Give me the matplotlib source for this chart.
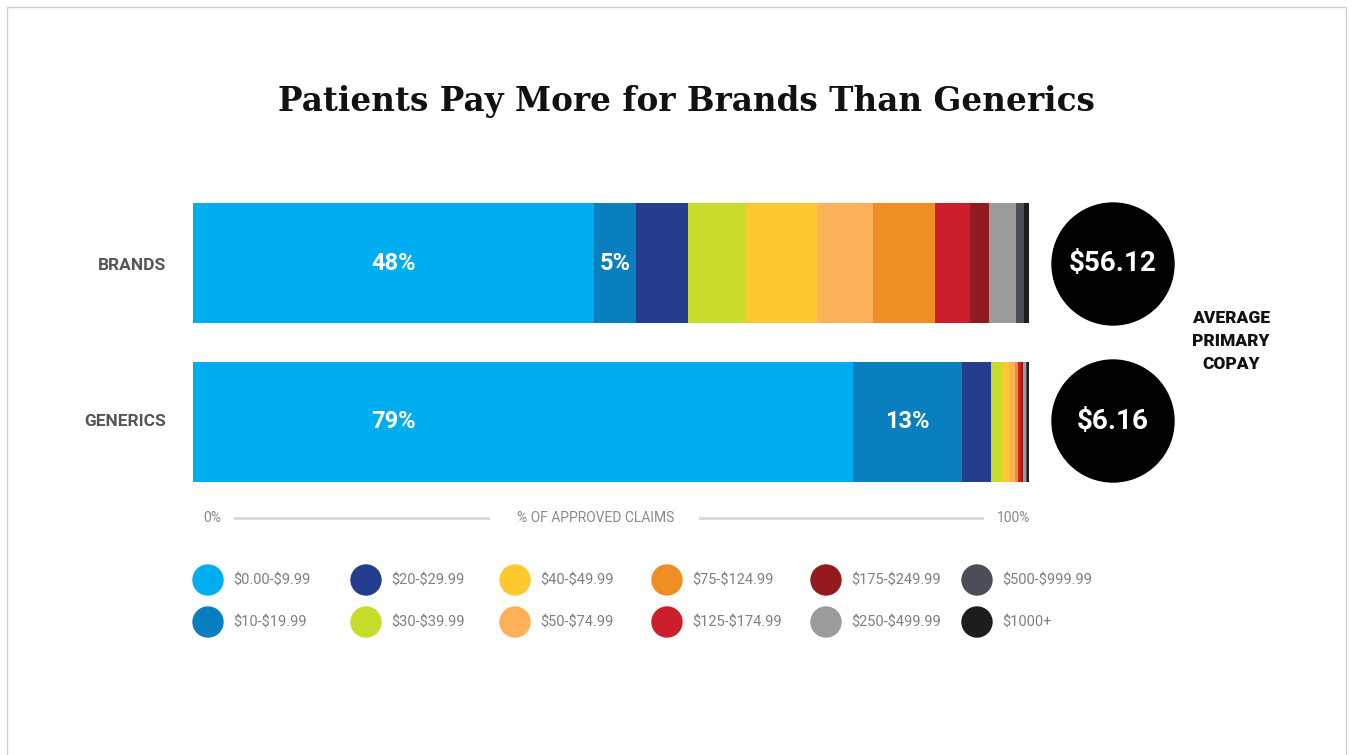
import matplotlib.pyplot as plt
from matplotlib.patches import Circle, Rectangle

plt.rcParams["text.parse_math"] = False

# copay bands, in stacking order
bands = ["$0.00-$9.99", "$10-$19.99", "$20-$29.99", "$30-$39.99",
         "$40-$49.99", "$50-$74.99", "$75-$124.99", "$125-$174.99",
         "$175-$249.99", "$250-$499.99", "$500-$999.99", "$1000+"]
band_colors = ["#00aeef", "#0a7fc0", "#253d8f", "#c8dc2c",
               "#fdc92f", "#fbb05a", "#ee8e24", "#cc1f2b",
               "#931a1d", "#9b9b9b", "#4a4f57", "#1d1d1f"]

groups = ["BRANDS", "GENERICS"]
# share of approved claims per band (%)
brands = [48, 5, 6.2, 6.9, 8.7, 6.5, 7.5, 4.2, 2.2, 3.2, 1.0, 0.6]
generics = [79, 13, 3.4, 1.4, 0.8, 0.7, 0.4, 0.3, 0.3, 0.3, 0.2, 0.2]
avg_copay = ["$56.12", "$6.16"]
labelled = 2  # only the first two segments get a % label

W, H = 1353, 755
fig = plt.figure(figsize=(W / 100, H / 100), dpi=100)
fig.patch.set_facecolor("white")

# --- bars ---
ax = fig.add_axes([193 / W, 1 - 482 / H, (1029 - 193) / W, (482 - 203) / H])
ax.set_xlim(0, 100)
ax.set_ylim(-0.38, 1.38)
ax.axis("off")

ypos = [1, 0]
for y, vals in zip(ypos, [brands, generics]):
    left = 0
    for i, v in enumerate(vals):
        ax.barh(y, v, left=left, height=0.76, color=band_colors[i], linewidth=0)
        if i < labelled:
            cx = brands[0] / 2 if i == 0 else left + v / 2
            ax.text(cx, y, f"{v:g}%", color="white", ha="center", va="center",
                    fontsize=17, fontweight="bold", family="Roboto")
        left += v

# --- overlay in pixel coordinates for the rest ---
ov = fig.add_axes([0, 0, 1, 1], zorder=-1)
ov.set_xlim(0, W)
ov.set_ylim(H, 0)
ov.axis("off")
ov2 = fig.add_axes([0, 0, 1, 1])
ov2.set_xlim(0, W)
ov2.set_ylim(H, 0)
ov2.axis("off")

ov.add_patch(Rectangle((7, 7), W - 14, H + 20, fill=False, ec="#d0d0d0", lw=1))

ov2.text(686, 101, "Patients Pay More for Brands Than Generics", ha="center",
         va="center", fontsize=23.5, fontweight="bold", family="DejaVu Serif",
         color="#111111")

for yy, g in zip([265, 421], groups):
    ov2.text(166, yy, g, ha="right", va="center", fontsize=12.5,
             fontweight="bold", family="Roboto", color="#555555")

# average copay discs
for yy, c in zip([264, 421], avg_copay):
    ov2.add_patch(Circle((1113, yy), 61, color="black"))
    ov2.text(1113, yy, c, ha="center", va="center", color="white",
             fontsize=20, fontweight="bold", family="Roboto")
ov2.text(1231, 341, "AVERAGE\nPRIMARY\nCOPAY", ha="center", va="center",
         fontsize=12.5, fontweight="heavy", family="Roboto", color="#111111",
         linespacing=1.55)

# axis caption row
cap = dict(ha="center", va="center", fontsize=10, family="Roboto",
           color="#8a8a8a")
ov2.text(212, 518, "0%", **cap)
ov2.text(1014, 518, "100%", **cap)
ov2.text(596, 518, "% OF APPROVED CLAIMS", **cap)
ov2.plot([235, 488], [518, 518], color="#d8d8d8", lw=2)
ov2.plot([700, 982], [518, 518], color="#d8d8d8", lw=2)

# legend, two rows, column-major
col_x = [208, 366, 515, 667, 826, 977]
row_y = [580, 622]
for i, (b, c) in enumerate(zip(bands, band_colors)):
    cx, cy = col_x[i // 2], row_y[i % 2]
    ov2.add_patch(Circle((cx, cy), 15, color=c))
    ov2.text(cx + 25, cy, b, ha="left", va="center", fontsize=10.5,
             family="Roboto", color="#808080")

fig.savefig("out.png", dpi=100, facecolor="white")
